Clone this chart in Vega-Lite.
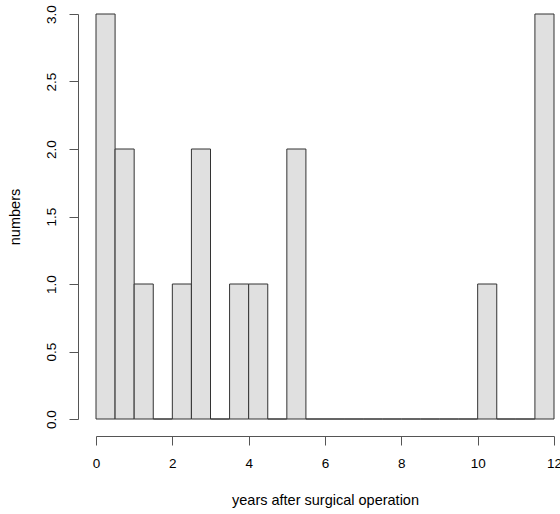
{
  "$schema": "https://vega.github.io/schema/vega-lite/v6.json",
  "width": 458,
  "height": 405,
  "autosize": {"type": "none"},
  "padding": {"left": 96, "top": 14, "right": 6, "bottom": 95},
  "background": "white",
  "config": {
    "view": {"stroke": null},
    "axis": {"grid": false, "labelFont": "Liberation Sans", "titleFont": "Liberation Sans", "labelFontSize": 13.5, "titleFontSize": 14.5, "titleFontWeight": "normal", "labelColor": "#000", "titleColor": "#000", "domainColor": "#555", "tickColor": "#555", "tickSize": 9, "domainWidth": 1, "tickWidth": 1}
  },
  "data": {"values": [
    {"start": 0, "end": 0.5, "count": 3},
    {"start": 0.5, "end": 1, "count": 2},
    {"start": 1, "end": 1.5, "count": 1},
    {"start": 1.5, "end": 2, "count": 0},
    {"start": 2, "end": 2.5, "count": 1},
    {"start": 2.5, "end": 3, "count": 2},
    {"start": 3, "end": 3.5, "count": 0},
    {"start": 3.5, "end": 4, "count": 1},
    {"start": 4, "end": 4.5, "count": 1},
    {"start": 4.5, "end": 5, "count": 0},
    {"start": 5, "end": 5.5, "count": 2},
    {"start": 5.5, "end": 6, "count": 0},
    {"start": 6, "end": 6.5, "count": 0},
    {"start": 6.5, "end": 7, "count": 0},
    {"start": 7, "end": 7.5, "count": 0},
    {"start": 7.5, "end": 8, "count": 0},
    {"start": 8, "end": 8.5, "count": 0},
    {"start": 8.5, "end": 9, "count": 0},
    {"start": 9, "end": 9.5, "count": 0},
    {"start": 9.5, "end": 10, "count": 0},
    {"start": 10, "end": 10.5, "count": 1},
    {"start": 10.5, "end": 11, "count": 0},
    {"start": 11, "end": 11.5, "count": 0},
    {"start": 11.5, "end": 12, "count": 3}
  ]},
  "mark": {"type": "rect", "fill": "#e0e0e0", "stroke": "#333", "strokeWidth": 1},
  "encoding": {
    "x": {"field": "start", "type": "quantitative", "scale": {"domain": [0, 12], "nice": false, "zero": false},
      "axis": {"values": [0, 2, 4, 6, 8, 10, 12], "offset": 17, "labelPadding": 11, "title": "years after surgical operation", "titlePadding": 24, "labelFlush": false}},
    "x2": {"field": "end"},
    "y": {"field": "count", "type": "quantitative", "scale": {"domain": [0, 3], "nice": false},
      "axis": {"values": [0, 0.5, 1, 1.5, 2, 2.5, 3], "format": ".1f", "offset": 18, "labelAngle": -90, "labelAlign": "center", "labelBaseline": "bottom", "labelPadding": 11, "title": "numbers", "titlePadding": 22, "labelFlush": false}},
    "y2": {"datum": 0}
  }
}
